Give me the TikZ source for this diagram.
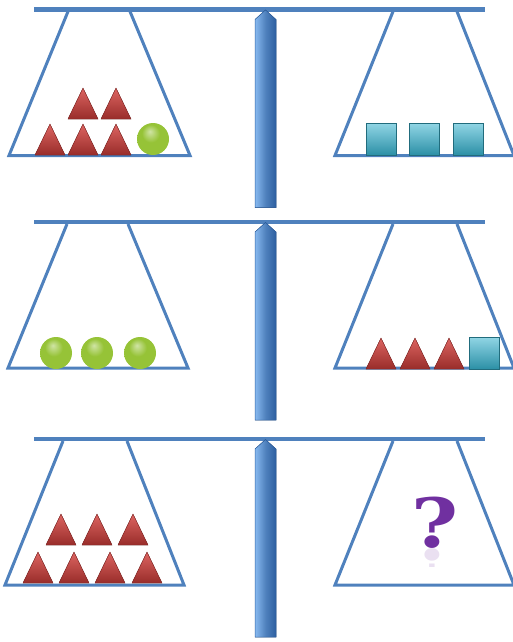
\documentclass[tikz,border=0pt]{standalone}
\usepackage{fontspec}
\usepackage{tikz}
\newfontfamily\qfont{DejaVu Serif}
\definecolor{balblue}{RGB}{79,129,189}
\definecolor{polelight}{RGB}{135,185,240}
\definecolor{poledark}{RGB}{45,95,160}
\definecolor{wred}{RGB}{212,62,58}
\definecolor{wgreen}{RGB}{150,195,55}
\definecolor{wcyan}{RGB}{55,180,208}
\definecolor{qpurple}{RGB}{112,48,160}
\colorlet{wgreenlight}{wgreen!45!white}
\colorlet{wgreendark}{wgreen!70!black}
\pgfdeclareradialshading{greenball}{\pgfpoint{-5bp}{12bp}}{%
  color(0bp)=(wgreenlight); color(14bp)=(wgreen); color(34bp)=(wgreen);
  color(48bp)=(wgreendark); color(50bp)=(wgreendark)}
\tikzset{
  balbeam/.style={line width=4.5pt,balblue},
  balpan/.style={line width=3pt,balblue,line join=miter},
  balpole/.style={left color=polelight,right color=poledark,middle color=balblue,
                  draw=poledark,line width=0.5pt},
  wtristyle/.style={top color=wred!80!white,bottom color=wred!72!black,
                    draw=wred!65!black,line width=0.4pt},
  wboxstyle/.style={top color=wcyan!55!white,bottom color=wcyan!80!black,
                    draw=wcyan!60!black,line width=0.4pt},
  weighttri/.pic={\filldraw[wtristyle] (-15,0) -- (0,-31) -- (15,0) -- cycle;},
  weightball/.pic={\shade[shading=greenball] (0,-16) circle (16);},
  weightbox/.pic={\filldraw[wboxstyle] (-15,0) rectangle (15,-32);},
  qstyle/.style={font=\qfont\bfseries\fontsize{68}{68}\selectfont,text=qpurple,
                 inner sep=0pt,xscale=1.18,transform shape}
}

\begin{document}
\begin{tikzpicture}[x=1pt,y=-1pt]
  \useasboundingbox (0,0) rectangle (512,642);

  % three balances: beam height, left pan top/bottom
  \foreach \by/\la/\lb/\lc/\ld in {9.5/68/130/9/190, 222/67/128/8/188, 439/63/127/5/184}{
    \draw[balpan] (\la,\by+2) -- (\lc,\by+146) -- (\ld,\by+146) -- (\lb,\by+2);
    \draw[balpan] (393,\by+2) -- (335,\by+146) -- (514,\by+146) -- (457,\by+2);
    \draw[balbeam] (34,\by) -- (485,\by);
    \filldraw[balpole] (255,\by+10) -- (265.5,\by+0.5) -- (276,\by+10)
      -- (276,\by+198) -- (255,\by+198) -- cycle;
  }

  % top balance
  \foreach \x in {50,83,116} \pic at (\x,155) {weighttri};
  \foreach \x in {83,116} \pic at (\x,119) {weighttri};
  \pic at (153,155) {weightball};
  \foreach \x in {381,424,468} \pic at (\x,155) {weightbox};

  % middle balance
  \foreach \x in {56,97,140} \pic at (\x,369) {weightball};
  \foreach \x in {381,415,449} \pic at (\x,369) {weighttri};
  \pic at (484,369) {weightbox};

  % bottom balance
  \foreach \x in {38,74,110,147} \pic at (\x,583) {weighttri};
  \foreach \x in {61,97,133} \pic at (\x,545) {weighttri};
  \node[qstyle,anchor=base] (qmark) at (435,547) {?};
  \begin{scope}
    \clip (400,548) rectangle (470,566);
    \node[qstyle,anchor=base,opacity=0.15,yscale=-1] (qmirror) at (435,549) {?};
  \end{scope}
\end{tikzpicture}
\end{document}
